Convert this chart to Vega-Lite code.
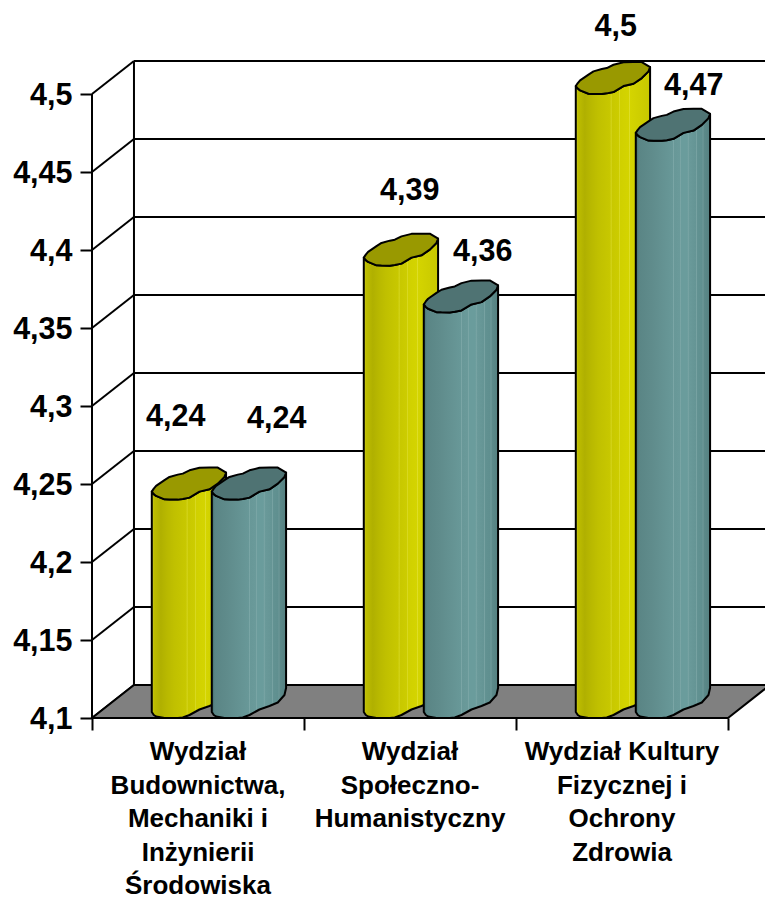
{
"$schema":"https://vega.github.io/schema/vega-lite/v6.json",
"width":673,"height":718,"autosize":"none",
"padding":{"left":92,"top":0,"right":0,"bottom":180},
"background":"white",
"config":{"view":{"stroke":null},"axis":{"grid":false,"domain":false}},
"datasets":{
"bars":[
{"id":0,"i":0,"series":"A","value":4.24,"name":"Wydział|Budownictwa,|Mechaniki i|Inżynierii|Środowiska","p":[0,1,2,3,4,5,6,7,8,9,10,11,12]},
{"id":1,"i":0,"series":"B","value":4.24,"name":"","p":[0,1,2,3,4,5,6,7,8,9,10,11,12]},
{"id":2,"i":1,"series":"A","value":4.39,"name":"Wydział|Społeczno-|Humanistyczny","p":[0,1,2,3,4,5,6,7,8,9,10,11,12]},
{"id":3,"i":1,"series":"B","value":4.36,"name":"","p":[0,1,2,3,4,5,6,7,8,9,10,11,12]},
{"id":4,"i":2,"series":"A","value":4.5,"name":"Wydział Kultury|Fizycznej i|Ochrony|Zdrowia","p":[0,1,2,3,4,5,6,7,8,9,10,11,12]},
{"id":5,"i":2,"series":"B","value":4.47,"name":"","p":[0,1,2,3,4,5,6,7,8,9,10,11,12]}
],
"profile":[
{"k":0,"dx":0,"lo":8,"hi":8,"bl":6},
{"k":1,"dx":2,"lo":5.5,"hi":11,"bl":3},
{"k":2,"dx":4.3,"lo":3.7,"hi":13.7,"bl":1.5},
{"k":3,"dx":12.7,"lo":0.3,"hi":19.5,"bl":0},
{"k":4,"dx":17.7,"lo":0.1,"hi":22.7,"bl":0},
{"k":5,"dx":26,"lo":0,"hi":25,"bl":0},
{"k":6,"dx":31,"lo":0.7,"hi":26,"bl":0.5},
{"k":7,"dx":37.7,"lo":2,"hi":29.3,"bl":3},
{"k":8,"dx":47.7,"lo":8,"hi":31.8,"bl":8.5},
{"k":9,"dx":57.7,"lo":10.3,"hi":32,"bl":12},
{"k":10,"dx":66,"lo":16,"hi":32,"bl":15.5},
{"k":11,"dx":72.7,"lo":22.7,"hi":28,"bl":23},
{"k":12,"dx":74.3,"lo":27,"hi":27,"bl":30}
],
"ticks":[{"v":4.1},{"v":4.15},{"v":4.2},{"v":4.25},{"v":4.3},{"v":4.35},{"v":4.4},{"v":4.45},{"v":4.5}],
"floor":[{"fx":0,"fl":4.1,"fh":4.1},{"fx":0.198,"fl":4.1,"fh":4.1212},{"fx":3,"fl":4.1,"fh":4.1212},{"fx":3.198,"fl":4.1212,"fh":4.1212}]
},
"data":{"name":"bars"},
"transform":[
{"flatten":["p"]},
{"lookup":"p","from":{"data":{"name":"profile"},"key":"k","fields":["dx","lo","hi","bl"]}},
{"calculate":"datum.i+(datum.series==='A'?0.282:0.565)+datum.dx/212","as":"x"},
{"calculate":"datum.value+datum.lo/1560","as":"topLo"},
{"calculate":"datum.value+datum.hi/1560","as":"topHi"},
{"calculate":"4.1+datum.bl/1560","as":"baseLo"}
],
"layer":[
{"data":{"name":"ticks"},"transform":[{"calculate":"datum.v+0.0212","as":"w"}],
 "mark":{"type":"rule","color":"black","strokeWidth":2},
 "encoding":{
  "x":{"datum":0,"type":"quantitative","title":null,"scale":{"domain":[0,3.1745],"nice":false,"zero":false},
   "axis":{"values":[0,1,2,3],"labels":false,"tickSize":12,"tickWidth":2,"tickColor":"black","title":null}},
  "x2":{"datum":0.198},
  "y":{"field":"v","type":"quantitative","title":null,"scale":{"domain":[4.1,4.5603],"nice":false,"zero":false},
   "axis":{"values":[4.1,4.15,4.2,4.25,4.3,4.35,4.4,4.45,4.5],"tickSize":12,"tickWidth":2,"tickColor":"black","labelPadding":8,"labelOffset":1,
    "labelFont":"Liberation Sans","labelFontWeight":"bold","labelFontSize":30.5,"labelColor":"black",
    "labelExpr":"replace(format(datum.value,'~g'),'.',',')","title":null}},
  "y2":{"field":"w"}}},
{"data":{"name":"ticks"},"transform":[{"calculate":"datum.v+0.0212","as":"w"}],
 "mark":{"type":"rule","color":"black","strokeWidth":2},
 "encoding":{"x":{"datum":0.198,"type":"quantitative"},"x2":{"datum":3.1745},"y":{"field":"w","type":"quantitative"}}},
{"data":{"name":"floor"},
 "mark":{"type":"area","fill":"#808080","stroke":"black","strokeWidth":2},
 "encoding":{"x":{"field":"fx","type":"quantitative"},"y":{"field":"fl","type":"quantitative"},"y2":{"field":"fh"}}},
{"data":{"values":[{"a":4.1,"b":4.5}]},
 "mark":{"type":"rule","color":"black","strokeWidth":2},
 "encoding":{"x":{"datum":0,"type":"quantitative"},"y":{"field":"a","type":"quantitative"},"y2":{"field":"b"}}},
{"data":{"values":[{"a":4.1212,"b":4.5212}]},
 "mark":{"type":"rule","color":"black","strokeWidth":2},
 "encoding":{"x":{"datum":0.198,"type":"quantitative"},"y":{"field":"a","type":"quantitative"},"y2":{"field":"b"}}},
{"transform":[{"filter":"datum.series==='A'"}],
 "mark":{"type":"area","stroke":"black","strokeWidth":2,"strokeJoin":"round","fill":{"gradient":"linear","x1":0,"y1":0,"x2":1,"y2":0,"stops":[{"offset":0,"color":"#cfcf30"},{"offset":0.03,"color":"#bdbd00"},{"offset":0.12,"color":"#b0b000"},{"offset":0.2,"color":"#b8b800"},{"offset":0.3,"color":"#c0c000"},{"offset":0.465,"color":"#c8c800"},{"offset":0.475,"color":"#dcdc30"},{"offset":0.485,"color":"#c8c800"},{"offset":0.575,"color":"#cccc00"},{"offset":0.585,"color":"#dcdc30"},{"offset":0.595,"color":"#d0d000"},{"offset":0.715,"color":"#d4d400"},{"offset":0.725,"color":"#e0e030"},{"offset":0.735,"color":"#d4d400"},{"offset":1,"color":"#c8c800"}]}},
 "encoding":{"x":{"field":"x","type":"quantitative"},"y":{"field":"topLo","type":"quantitative"},"y2":{"field":"baseLo"},"detail":{"field":"id"}}},
{"transform":[{"filter":"datum.series==='A'"}],
 "mark":{"type":"area","fill":"#999900","stroke":"black","strokeWidth":2,"strokeJoin":"round"},
 "encoding":{"x":{"field":"x","type":"quantitative"},"y":{"field":"topLo","type":"quantitative"},"y2":{"field":"topHi"},"detail":{"field":"id"}}},
{"transform":[{"filter":"datum.series==='B'"}],
 "mark":{"type":"area","stroke":"black","strokeWidth":2,"strokeJoin":"round","fill":{"gradient":"linear","x1":0,"y1":0,"x2":1,"y2":0,"stops":[{"offset":0,"color":"#3f6a6a"},{"offset":0.04,"color":"#5a8585"},{"offset":0.2,"color":"#5f8b8b"},{"offset":0.495,"color":"#689898"},{"offset":0.505,"color":"#80aaaa"},{"offset":0.515,"color":"#689898"},{"offset":0.595,"color":"#6a9a9a"},{"offset":0.605,"color":"#80aaaa"},{"offset":0.615,"color":"#6a9c9c"},{"offset":0.695,"color":"#6a9c9c"},{"offset":0.705,"color":"#80aaaa"},{"offset":0.715,"color":"#6a9a9a"},{"offset":0.805,"color":"#659595"},{"offset":0.815,"color":"#7ca6a6"},{"offset":0.825,"color":"#629292"},{"offset":0.895,"color":"#5f8f8f"},{"offset":0.905,"color":"#78a0a0"},{"offset":0.915,"color":"#5c8a8a"},{"offset":1,"color":"#558080"}]}},
 "encoding":{"x":{"field":"x","type":"quantitative"},"y":{"field":"topLo","type":"quantitative"},"y2":{"field":"baseLo"},"detail":{"field":"id"}}},
{"transform":[{"filter":"datum.series==='B'"}],
 "mark":{"type":"area","fill":"#4f7373","stroke":"black","strokeWidth":2,"strokeJoin":"round"},
 "encoding":{"x":{"field":"x","type":"quantitative"},"y":{"field":"topLo","type":"quantitative"},"y2":{"field":"topHi"},"detail":{"field":"id"}}},
{"data":{"name":"bars"},
 "transform":[
  {"calculate":"datum.i+(datum.series==='A'?0.282:0.565)+[24,65,46,59,40,58][datum.id]/212","as":"lx"},
  {"calculate":"datum.value+[83,81,75,60,67,55][datum.id]/1560","as":"ly"},
  {"calculate":"replace(''+datum.value,'.',',')","as":"txt"}],
 "mark":{"type":"text","font":"Liberation Sans","fontWeight":"bold","fontSize":30.5,"color":"black","align":"center","baseline":"middle"},
 "encoding":{"x":{"field":"lx","type":"quantitative"},"y":{"field":"ly","type":"quantitative"},"text":{"field":"txt"}}},
{"data":{"name":"bars"},
 "transform":[{"filter":"datum.name!==''"},{"calculate":"datum.i+0.5","as":"cx"},{"calculate":"4.1","as":"cy"}],
 "mark":{"type":"text","font":"Liberation Sans","fontWeight":"bold","fontSize":26,"color":"black","align":"center","baseline":"top","lineBreak":"|","lineHeight":33.6,"dy":21},
 "encoding":{"x":{"field":"cx","type":"quantitative"},"y":{"field":"cy","type":"quantitative"},"text":{"field":"name"}}}
]
}
